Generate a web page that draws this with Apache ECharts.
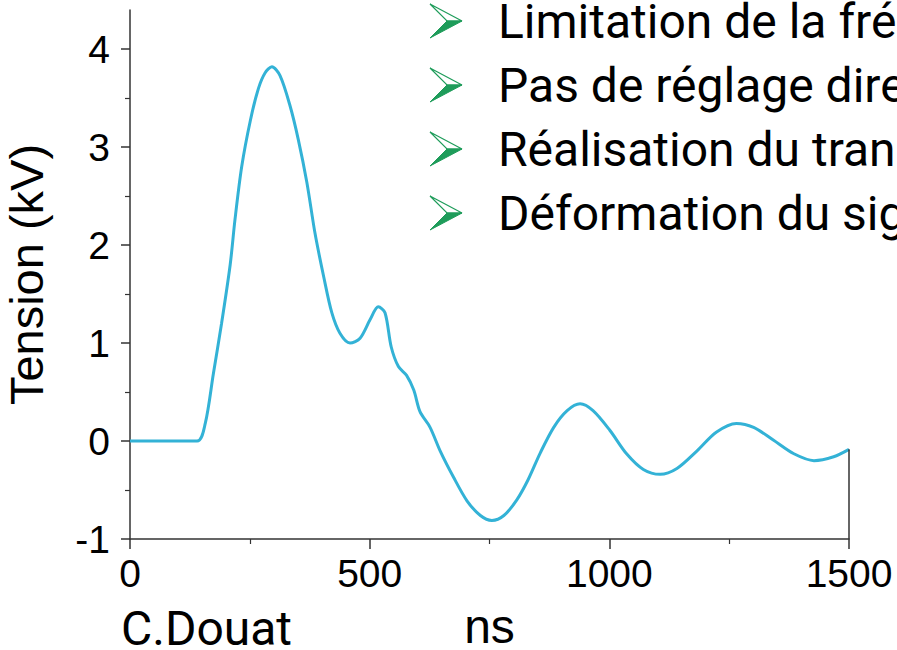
<!DOCTYPE html>
<html>
<head>
<meta charset="utf-8">
<script src="https://cdn.jsdelivr.net/npm/echarts@6/dist/echarts.min.js"></script>
<style>
    html, body { margin: 0; padding: 0; background: #fff; }
    #chart { width: 897px; height: 650px; }
</style>
</head>
<body>
<div id="chart"></div>
<script>
    // time (ns) and voltage (kV)
    var timeNs = [0, 140, 157, 174, 191, 209, 219, 233, 251, 268, 282, 296, 313, 334, 351, 369, 386, 404, 421, 438,
        459, 480, 501, 518, 532, 545, 560, 577, 592, 605, 626, 647, 675, 703, 731, 755, 780, 807, 830, 856,
        884, 912, 939, 966, 1001, 1036, 1071, 1106, 1141, 1183, 1223, 1265, 1301, 1342, 1385, 1427, 1468, 1500];
    var tensionKv = [0, 0, 0.18, 0.69, 1.20, 1.80, 2.26, 2.80, 3.27, 3.60, 3.76, 3.82, 3.73, 3.42, 3.08, 2.64, 2.12, 1.68, 1.31, 1.10,
        1.00, 1.05, 1.24, 1.37, 1.31, 0.96, 0.76, 0.67, 0.52, 0.30, 0.14, -0.10, -0.37, -0.61, -0.76, -0.81, -0.76, -0.60, -0.40, -0.12,
        0.14, 0.31, 0.38, 0.31, 0.11, -0.13, -0.29, -0.34, -0.28, -0.10, 0.09, 0.18, 0.14, 0.01, -0.13, -0.20, -0.16, -0.085];

    var yMajorTicks = [-1, 0, 1, 2, 3, 4];
    var yMinorTicks = [-0.5, 0.5, 1.5, 2.5, 3.5];
    var bulletLines = ['Limitation de la fré', 'Pas de réglage dire', 'Réalisation du tran', 'Déformation du sig'];
    var credit = 'C.Douat';

    var axisColor = '#333';
    var lineData = timeNs.map(function (t, i) { return [t, tensionKv[i]]; });

    // bullets drawn on top-right, like the slide text box
    var graphics = [];
    bulletLines.forEach(function (txt, i) {
        var cy = 21 + i * 64;
        graphics.push({
            type: 'polygon',
            shape: { points: [[430, cy - 17], [462, cy], [447, cy]] },
            style: { fill: '#fff', stroke: '#1e9c5a', lineWidth: 1.2 }
        });
        graphics.push({
            type: 'polygon',
            shape: { points: [[447, cy], [462, cy], [430, cy + 17]] },
            style: { fill: '#1e9c5a', stroke: '#1e9c5a', lineWidth: 1 }
        });
        graphics.push({
            type: 'text',
            style: {
                text: txt, x: 498, y: cy,
                font: '48px Roboto', fill: '#000',
                textVerticalAlign: 'middle'
            }
        });
    });
    graphics.push({
        type: 'text',
        style: {
            text: credit, x: 121, y: 628,
            font: '48px Roboto', fill: '#000',
            textVerticalAlign: 'middle'
        }
    });

    var chart = echarts.init(document.getElementById('chart'), null, { renderer: 'svg' });
    chart.setOption({
        animation: false,
        backgroundColor: '#fff',
        grid: { left: 130, right: 48, top: 10, bottom: 111, outerBoundsMode: 'none' },
        xAxis: {
            type: 'value',
            min: 0, max: 1500, interval: 500,
            name: 'ns', nameLocation: 'middle', nameGap: 63,
            nameTextStyle: { fontFamily: 'Liberation Sans', fontSize: 48, color: '#000' },
            axisLine: { onZero: false, lineStyle: { color: axisColor, width: 1.5 } },
            axisTick: { length: 10, lineStyle: { color: axisColor, width: 1.5 } },
            minorTick: { show: true, splitNumber: 2, length: 5, lineStyle: { color: axisColor, width: 1.2 } },
            axisLabel: {
                fontFamily: 'Liberation Sans', fontSize: 39, color: '#000', margin: 15,
                formatter: function (v) { return String(v); }
            },
            splitLine: { show: false }
        },
        yAxis: [{
            type: 'value',
            min: -1, max: 4.4,
            name: 'Tension (kV)', nameLocation: 'middle', nameGap: 80,
            nameTextStyle: { fontFamily: 'Liberation Sans', fontSize: 47, color: '#000' },
            axisLine: { show: true, lineStyle: { color: axisColor, width: 1.5 } },
            axisTick: { show: true, length: 9, customValues: yMajorTicks, lineStyle: { color: axisColor, width: 1.5 } },
            axisLabel: { customValues: yMajorTicks, fontFamily: 'Liberation Sans', fontSize: 39, color: '#000', margin: 20 },
            splitLine: { show: false }
        }, {
            type: 'value',
            position: 'left',
            min: -1, max: 4.4,
            axisLine: { show: false },
            axisTick: { show: true, length: 5, customValues: yMinorTicks, lineStyle: { color: axisColor, width: 1.2 } },
            axisLabel: { show: false },
            splitLine: { show: false }
        }],
        series: [{
            type: 'line',
            data: lineData,
            showSymbol: false,
            smooth: 0.3,
            lineStyle: { color: '#33b2d6', width: 3 },
            markLine: {
                silent: true,
                symbol: 'none',
                label: { show: false },
                lineStyle: { color: axisColor, width: 1.5, type: 'solid' },
                data: [[{ coord: [1500, -1] }, { coord: [1500, -0.085] }]]
            }
        }],
        graphic: graphics
    });
</script>
</body>
</html>
